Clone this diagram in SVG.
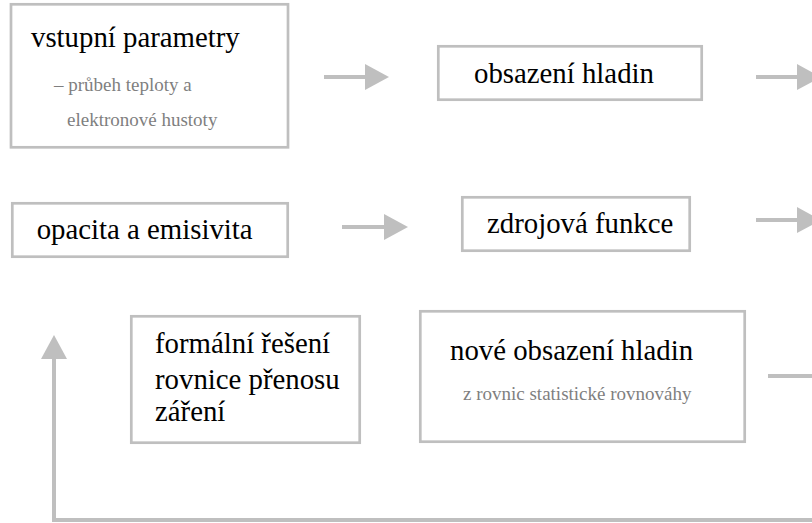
<svg xmlns="http://www.w3.org/2000/svg" width="812" height="523" viewBox="0 0 812 523">
<style>
.box{fill:#ffffff;stroke:#bfbfbf;stroke-width:2.7}
.t{font-size:28.8px;fill:#000000}
.s{font-size:19px;fill:#7f7f7f}
.c{fill:none;stroke:#bfbfbf;stroke-width:4}
</style>
<defs>
<marker id="ah" markerUnits="userSpaceOnUse" markerWidth="24" markerHeight="26" refX="0" refY="13" orient="auto" overflow="visible">
<path d="M0,0 L24,13 L0,26 z" fill="#bfbfbf"/>
</marker>
</defs>
<rect width="812" height="523" fill="#ffffff"/>
<g id="connectors">
<line class="c" x1="324" y1="77" x2="365" y2="77" marker-end="url(#ah)"/>
<line class="c" x1="756" y1="77" x2="797" y2="77" marker-end="url(#ah)"/>
<line class="c" x1="342" y1="227" x2="384" y2="227" marker-end="url(#ah)"/>
<line class="c" x1="756" y1="220" x2="797" y2="220" marker-end="url(#ah)"/>
<line class="c" x1="768" y1="376" x2="812" y2="376"/>
<polyline class="c" points="812,520 54,520 54,359" marker-end="url(#ah)"/>
</g>
<g font-family="'Liberation Serif', 'DejaVu Serif', serif">
<g id="node-vstupni">
<rect class="box" x="11" y="4.3" width="277" height="143"/>
<text class="t" x="31" y="47">vstupní parametry</text>
<text class="s" x="54" y="91">– průbeh teploty a</text>
<text class="s" x="67" y="126">elektronové hustoty</text>
</g>
<g id="node-obsazeni">
<rect class="box" x="438.3" y="46.3" width="263.4" height="53.4"/>
<text class="t" x="474" y="83">obsazení hladin</text>
</g>
<g id="node-opacita">
<rect class="box" x="12.3" y="203.3" width="275.4" height="53.4"/>
<text class="t" x="36.7" y="239">opacita a emisivita</text>
</g>
<g id="node-zdrojova">
<rect class="box" x="462.3" y="197.3" width="227.4" height="53.4"/>
<text class="t" x="487" y="233">zdrojová funkce</text>
</g>
<g id="node-formalni">
<rect class="box" x="131.3" y="316.3" width="228.4" height="126.4"/>
<text class="t" x="155" y="353">formální řešení</text>
<text class="t" x="155" y="389">rovnice přenosu</text>
<text class="t" x="155" y="421">záření</text>
</g>
<g id="node-nove">
<rect class="box" x="420.3" y="311.3" width="324.4" height="130.4"/>
<text class="t" x="450" y="360">nové obsazení hladin</text>
<text class="s" x="463" y="400">z rovnic statistické rovnováhy</text>
</g>
</g>
</svg>
